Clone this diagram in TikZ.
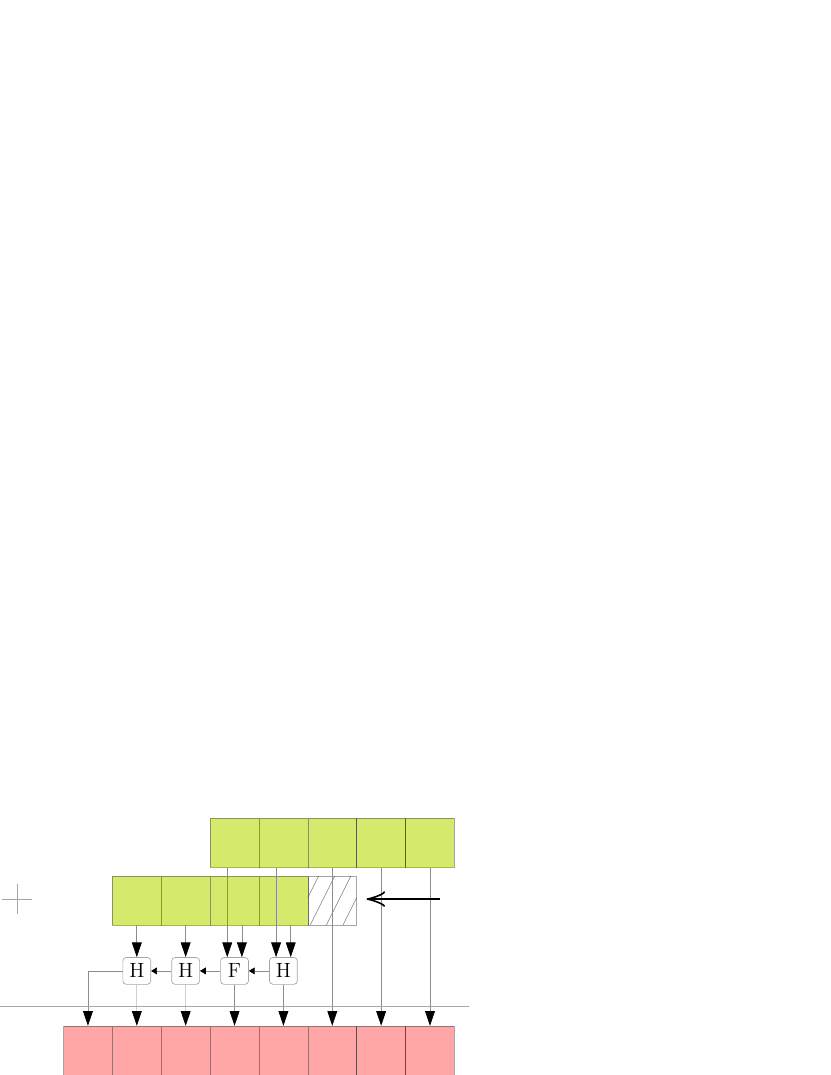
\documentclass[tikz,border=0pt]{standalone}
\usepackage{tikz}
\usetikzlibrary{arrows.meta, positioning}
\definecolor{inputgreen}{RGB}{213,234,108}

\begin{document}
\begin{tikzpicture}[node distance=1cm]
% Styles
\tikzstyle{acell} = [rectangle, minimum size=1cm, inner sep=0pt, draw=black, draw opacity=0.35, fill=inputgreen]
\tikzstyle{gapcell} = [rectangle, minimum size=1cm, inner sep=0pt, draw=black, draw opacity=0.35, path picture={\foreach \k in {-0.28,0.05,0.38,0.72} \draw[black!50, draw opacity=1, line width=0.3pt] ([xshift=\k cm]path picture bounding box.south west) -- ++(0.5,1);}]
\tikzstyle{outcell} = [rectangle, minimum size=1cm, inner sep=0pt, draw=black, draw opacity=0.35, fill=red!35]
\tikzstyle{adder} = [rectangle, rounded corners=2pt, minimum width=0.57cm, minimum height=0.55cm, inner sep=1pt, draw=black, draw opacity=0.35, fill=white, font=\large]
\tikzstyle{wire} = [black!45, -{Triangle[length=3mm, width=2mm, color=black]}]
\tikzstyle{dimwire} = [black!18, -{Triangle[length=3mm, width=2mm, color=black]}]
\tikzstyle{carry} = [black!45, -{Triangle[length=1.2mm, width=1.4mm, color=black]}]
\tikzstyle{guide} = [black!35]
\tikzstyle{shiftarrow} = [very thick, -{Classical TikZ Rightarrow[length=3.8mm, width=3.2mm]}]

\useasboundingbox (0,0) rectangle (17,22);

% first operand
\node (in_a1) [acell] at (4.8,4.75) {};
\node (in_a2) [acell, right of=in_a1] {};
\node (in_a3) [acell, right of=in_a2] {};
\node (in_a4) [acell, right of=in_a3] {};
\node (in_a5) [acell, right of=in_a4] {};

% second operand, shifted
\node (in_b1) [acell] at (2.8,3.57) {};
\node (in_b2) [acell, right of=in_b1] {};
\node (in_b3) [acell, right of=in_b2] {};
\node (in_b4) [acell, right of=in_b3] {};
\node (in_b5) [gapcell, right of=in_b4] {};

% adders
\node (ha_1) [adder] at (2.8,2.13) {H};
\node (ha_2) [adder, right of=ha_1] {H};
\node (fa_3) [adder, right of=ha_2] {F};
\node (ha_4) [adder, right of=fa_3] {H};

% result
\node (out_1) [outcell] at (1.8,0.5) {};
\node (out_2) [outcell, right of=out_1] {};
\node (out_3) [outcell, right of=out_2] {};
\node (out_4) [outcell, right of=out_3] {};
\node (out_5) [outcell, right of=out_4] {};
\node (out_6) [outcell, right of=out_5] {};
\node (out_7) [outcell, right of=out_6] {};
\node (out_8) [outcell, right of=out_7] {};

\draw [wire] (in_b1.south) -- (ha_1.north);
\draw [wire] (in_b2.south) -- (ha_2.north);
\draw [wire] ([xshift=-0.15cm]in_a1.south) -- ([xshift=-0.15cm]fa_3.north);
\draw [wire] ([xshift=0.15cm]in_b3.south) -- ([xshift=0.15cm]fa_3.north);
\draw [wire] ([xshift=-0.15cm]in_a2.south) -- ([xshift=-0.15cm]ha_4.north);
\draw [wire] ([xshift=0.15cm]in_b4.south) -- ([xshift=0.15cm]ha_4.north);

\draw [carry] (ha_4) -- (fa_3);
\draw [carry] (fa_3) -- (ha_2);
\draw [carry] (ha_2) -- (ha_1);

\draw [wire] (ha_1.west) -| (out_1.north);
\draw [dimwire] (ha_1) -- (out_2);
\draw [dimwire] (ha_2) -- (out_3);
\draw [wire] (fa_3) -- (out_4);
\draw [wire] (ha_4) -- (out_5);
\draw [wire] (in_a3.south) -- (out_6.north);
\draw [wire] (in_a4.south) -- (out_7.north);
\draw [wire] (in_a5.south) -- (out_8.north);

\coordinate (sep_l) at (0,1.4);
\coordinate (sep_r) at (9.6,1.4);
\draw [guide] (sep_l) -- (sep_r);

\coordinate (mark) at (0.35,3.6);
\draw [guide] ([xshift=-0.3cm]mark) -- ([xshift=0.3cm]mark);
\draw [guide] ([yshift=-0.3cm]mark) -- ([yshift=0.3cm]mark);

\coordinate (shift_from) at (9.0,3.6);
\coordinate (shift_to) at (7.5,3.6);
\draw [shiftarrow] (shift_from) -- (shift_to);

\end{tikzpicture}
\end{document}
